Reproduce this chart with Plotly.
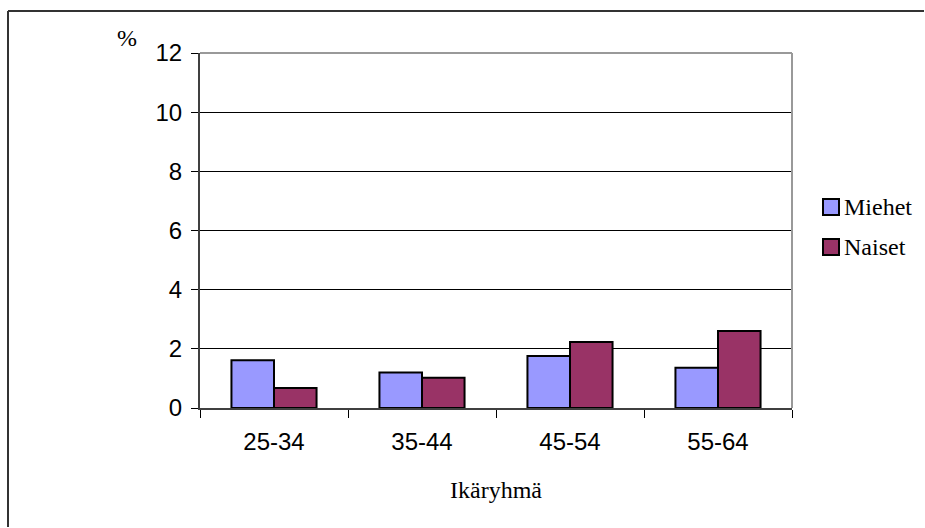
import plotly.graph_objects as go

# Age groups and share (%) per sex
age_groups = ["25-34", "35-44", "45-54", "55-64"]
series_names = ["Miehet", "Naiset"]
men_values = [1.61, 1.20, 1.76, 1.36]
women_values = [0.68, 1.02, 2.23, 2.60]
y_ticks = [0, 2, 4, 6, 8, 10, 12]
colors = ["#9999FF", "#993366"]

W, H = 925, 528
ML, MR, MT, MB = 200, 133, 53, 120
PW, PH = W - ML - MR, H - MT - MB


def px_x(p):
    return (p - ML) / PW


def px_y(p):
    return (H - MB - p) / PH


fig = go.Figure()
for name, vals, col in zip(series_names, [men_values, women_values], colors):
    fig.add_trace(go.Bar(
        x=age_groups, y=vals, name=name,
        marker=dict(color=col, line=dict(color="black", width=2)),
        showlegend=False,
    ))

frame = dict(color="#333333", width=2)
shapes = [
    # outer frame: top and left edges, kept inside the page
    dict(type="line", xref="paper", yref="paper", x0=px_x(8), x1=px_x(W - 1),
         y0=px_y(11), y1=px_y(11), line=frame),
    dict(type="line", xref="paper", yref="paper", x0=px_x(8), x1=px_x(8),
         y0=px_y(11), y1=px_y(H - 1), line=frame),
    # grey plot-area border on top and right
    dict(type="line", xref="paper", yref="paper", x0=0, x1=1, y0=1, y1=1,
         line=dict(color="#999999", width=2)),
    dict(type="line", xref="paper", yref="paper", x0=1, x1=1, y0=0, y1=1,
         line=dict(color="#999999", width=2)),
]

annotations = []
# legend drawn as swatches with labels
legend_centers = [207, 247]
for name, col, cy in zip(series_names, colors, legend_centers):
    shapes.append(dict(type="rect", xref="paper", yref="paper",
                       x0=px_x(823), x1=px_x(839), y0=px_y(cy + 8), y1=px_y(cy - 8),
                       fillcolor=col, line=dict(color="black", width=2)))
    annotations.append(dict(text=name, xref="paper", yref="paper",
                            x=px_x(842), y=px_y(cy), xanchor="left", yanchor="middle",
                            showarrow=False,
                            font=dict(family="Liberation Serif", size=24, color="black")))

annotations.append(dict(text="%", xref="paper", yref="paper",
                        x=px_x(127), y=px_y(38), xanchor="center", yanchor="middle",
                        showarrow=False,
                        font=dict(family="Liberation Serif", size=24, color="black")))
annotations.append(dict(text="Ikäryhmä", xref="paper", yref="paper",
                        x=0.5, y=px_y(490), xanchor="center", yanchor="middle",
                        showarrow=False,
                        font=dict(family="Liberation Serif", size=24, color="black")))

fig.update_layout(
    width=W, height=H,
    margin=dict(l=ML, r=MR, t=MT, b=MB),
    paper_bgcolor="white", plot_bgcolor="white",
    barmode="group", bargap=0.425, bargroupgap=0,
    shapes=shapes, annotations=annotations,
    xaxis=dict(
        type="category", showgrid=False, tickson="boundaries",
        ticks="outside", ticklen=8, tickwidth=1, tickcolor="black",
        showline=True, linecolor="#404040", linewidth=2,
        tickfont=dict(family="Liberation Sans", size=24, color="black"),
        ticklabelstandoff=11,
    ),
    yaxis=dict(
        range=[0, 12], tickvals=y_ticks, showgrid=True, gridcolor="black", gridwidth=1,
        zeroline=False, ticks="outside", ticklen=7, tickwidth=1, tickcolor="black",
        showline=True, linecolor="#404040", linewidth=2,
        tickfont=dict(family="Liberation Sans", size=24, color="black"),
        ticklabelstandoff=4,
    ),
)

fig.write_html("out.html")
